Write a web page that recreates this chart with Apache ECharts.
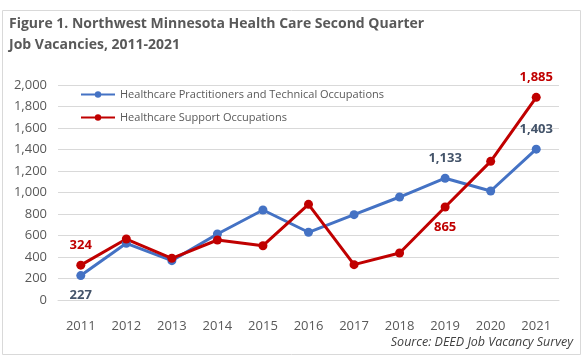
<!DOCTYPE html>
<html><head><meta charset="utf-8">
<script src="https://cdn.jsdelivr.net/npm/echarts@6/dist/echarts.min.js"></script>
<style>html,body{margin:0;padding:0;background:#fff}#c{width:585px;height:362px}</style>
</head><body><div id="c"></div>
<script>
const years = ['2011','2012','2013','2014','2015','2016','2017','2018','2019','2020','2021'];
const practitioners = [227, 527, 366, 614, 837, 630, 794, 958, 1133, 1014, 1403];
const support = [324, 567, 388, 558, 505, 890, 329, 437, 865, 1290, 1885];
const yTicks = [0, 200, 400, 600, 800, 1000, 1200, 1400, 1600, 1800, 2000];
const practLabelIdx = {0:'bottom', 8:'top', 10:'top'};
const supportLabelIdx = {0:'top', 8:'bottom', 10:'top'};
const FONT = '"Open Sans", "Noto Sans", sans-serif';

function mk(vals, map) {
  return vals.map((v, i) => map[i] ? {value: v, label: {show: true, position: map[i]}} : v);
}
const chart = echarts.init(document.getElementById('c'));
chart.setOption({
  animation: false,
  textStyle: {fontFamily: FONT},
  graphic: [
    {type: 'rect', shape: {x: 2.5, y: 10.5, width: 578, height: 344}, style: {fill: 'none', stroke: '#d9d9d9', lineWidth: 1}},
    {type: 'text', left: 9, top: 14, style: {text: 'Figure 1. Northwest Minnesota Health Care Second Quarter\nJob Vacancies, 2011-2021', font: 'bold 14px ' + FONT, fill: '#595959', lineHeight: 21}},
    {type: 'text', right: 12, top: 336, style: {text: 'Source: DEED Job Vacancy Survey', font: 'italic 12.5px ' + FONT, fill: '#404040'}}
  ],
  grid: {left: 58, right: 26, top: 85, bottom: 62},
  legend: {
    left: 75, top: 84, orient: 'vertical', itemGap: 12, itemWidth: 34, itemHeight: 8,
    textStyle: {fontSize: 11, color: '#595959', fontFamily: FONT},
    data: ['Healthcare Practitioners and Technical Occupations', 'Healthcare Support Occupations']
  },
  xAxis: {
    type: 'category', data: years, boundaryGap: true,
    axisLine: {show: true, lineStyle: {color: '#d9d9d9'}}, axisTick: {show: false},
    axisLabel: {color: '#595959', fontSize: 13, margin: 20}
  },
  yAxis: {
    type: 'value', min: 0, max: 2000, interval: 200,
    axisLine: {show: false}, axisTick: {show: false},
    splitLine: {lineStyle: {color: '#d9d9d9'}},
    axisLabel: {color: '#595959', fontSize: 13, margin: 11, formatter: v => v.toLocaleString('en-US')}
  },
  series: [
    {name: 'Healthcare Practitioners and Technical Occupations', type: 'line', data: mk(practitioners, practLabelIdx),
     symbol: 'circle', symbolSize: 9, lineStyle: {width: 3, color: '#4472C4'}, itemStyle: {color: '#4472C4'},
     label: {show: false, fontWeight: 'bold', fontSize: 13, color: '#44546A', distance: 9, formatter: p => p.value.toLocaleString('en-US')}},
    {name: 'Healthcare Support Occupations', type: 'line', data: mk(support, supportLabelIdx),
     symbol: 'circle', symbolSize: 9, lineStyle: {width: 3, color: '#C00000'}, itemStyle: {color: '#C00000'},
     label: {show: false, fontWeight: 'bold', fontSize: 13, color: '#C00000', distance: 9, formatter: p => p.value.toLocaleString('en-US')}}
  ]
});
</script></body></html>
